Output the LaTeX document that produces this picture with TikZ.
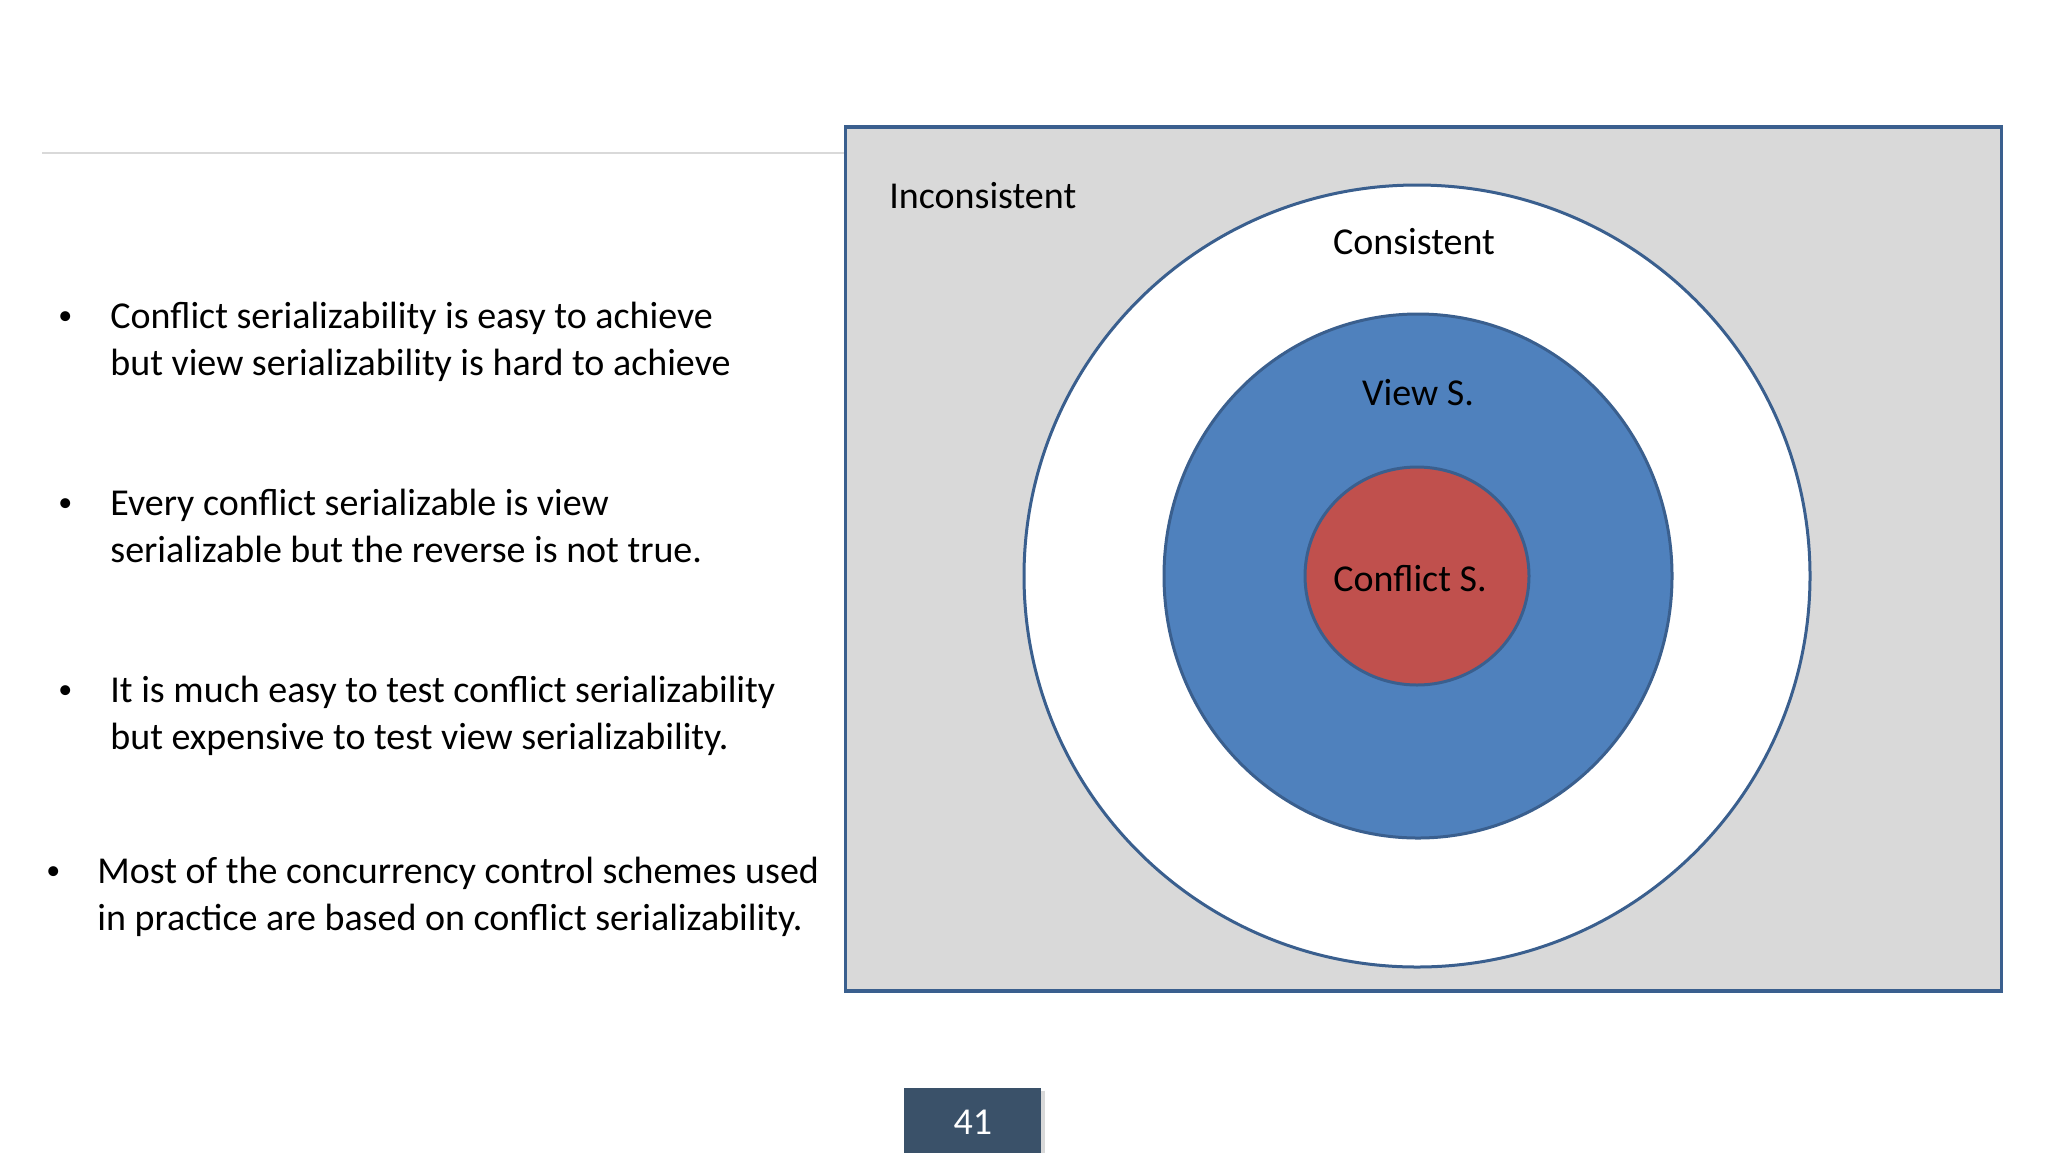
\documentclass[tikz,border=0pt]{standalone}
\usepackage{fontspec}
\setmainfont{Carlito}
\usetikzlibrary{shapes.geometric}
\definecolor{setgray}{HTML}{D9D9D9}
\definecolor{setblue}{HTML}{4F81BD}
\definecolor{setred}{HTML}{C0504D}
\definecolor{rimblue}{HTML}{3A5F8E}
\definecolor{pagebox}{HTML}{3A5169}
\definecolor{rulegray}{HTML}{D9D9D9}

\begin{document}
\begin{tikzpicture}[x=0.5pt,y=-0.5pt,inner sep=0pt,
  txt/.style={font=\fontsize{19}{23.2}\selectfont,align=left,anchor=base west},
  dot/.style={font=\fontsize{14}{16}\selectfont,anchor=base west},
  setring/.style={ellipse,draw=rimblue,line width=1.5pt}]
\useasboundingbox (0,0) rectangle (2048,1152);
\fill[white] (0,0) rectangle (2048,1152);
% top rule and frame
\coordinate (r1) at (42,153);
\coordinate (r2) at (845,153);
\draw[rulegray,line width=0.8pt] (r1) -- (r2);
\node[draw=rimblue,fill=setgray,line width=1.6pt,minimum width=578pt,minimum height=432pt] (frame) at (1423.5,559) {};
% nested sets
\node[setring,fill=white,minimum width=393pt,minimum height=391pt] (cons) at (1417,576) {};
\node[setring,fill=setblue,minimum width=254pt,minimum height=262pt] (view) at (1418,576) {};
\node[setring,fill=setred,minimum width=112pt,minimum height=109pt] (conf) at (1417,576) {};
\node[txt] (incons) at (889,208) {Inconsistent};
\node[txt,anchor=base] (consl) at (1414,254) {Consistent};
\node[txt,anchor=base] (viewl) at (1418,405) {View S.};
\node[txt,anchor=base] (confl) at (1410,591) {Conflict S.};
% bullets
\node[dot] (b1) at (58,324) {•};
\node[txt] (t1) at (110,375) {Conflict serializability is easy to achieve\\but view serializability is hard to achieve};
\node[dot] (b2) at (58,511) {•};
\node[txt] (t2) at (110,562) {Every conflict serializable is view\\serializable but the reverse is not true.};
\node[dot] (b3) at (58,698) {•};
\node[txt] (t3) at (110,749) {It is much easy to test conflict serializability\\but expensive to test view serializability.};
\node[dot] (b4) at (46,879) {•};
\node[txt] (t4) at (97,930) {Most of the concurrency control schemes used\\in practice are based on conflict serializability.};
% page number
\fill[black!15] (907,1091) rectangle (1045,1156);
\node[fill=pagebox,minimum width=68.5pt,minimum height=34pt,anchor=north west] (page) at (904,1088) {};
\node[txt,anchor=center,text=white] (pnum) at (page.center) {41};
\end{tikzpicture}
\end{document}
